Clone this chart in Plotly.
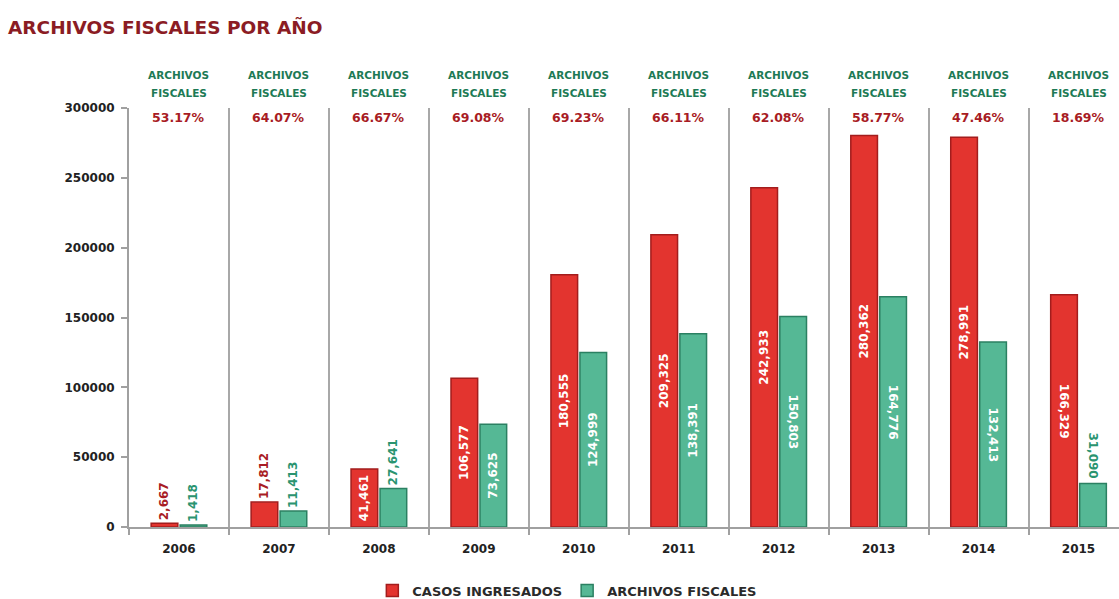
import plotly.graph_objects as go

years = ["2006", "2007", "2008", "2009", "2010", "2011", "2012", "2013", "2014", "2015"]
casos_ingresados = [2667, 17812, 41461, 106577, 180555, 209325, 242933, 280362, 278991, 166329]
archivos_fiscales = [1418, 11413, 27641, 73625, 124999, 138391, 150803, 164776, 132413, 31090]
porcentajes = ["53.17%", "64.07%", "66.67%", "69.08%", "69.23%", "66.11%", "62.08%", "58.77%", "47.46%", "18.69%"]
y_ticks = [0, 50000, 100000, 150000, 200000, 250000, 300000]

# label styling (not data): where each value label sits and which way it reads
casos_pos = ["outside", "outside"] + ["inside"] * 8
arch_pos = ["outside", "outside", "outside"] + ["inside"] * 6 + ["outside"]
casos_flip = [False] * 9 + [True]
arch_flip = [False] * 6 + [True] * 4

FONT = "DejaVu Sans"
RED = "#e3342f"
RED_LINE = "#a31d1d"
RED_TXT = "#a81c24"
GREEN = "#55b895"
GREEN_LINE = "#2b8062"
GREEN_TXT = "#2a9470"
HEAD_GREEN = "#1d7a55"
LABEL_SIZE = 12
BARGAP = 0.42

def fmt(v):
    return f"{v:,}"

casos_col = [RED_TXT if p == "outside" else "white" for p in casos_pos]
arch_col = [GREEN_TXT if p == "outside" else "white" for p in arch_pos]

fig = go.Figure()
fig.add_trace(go.Bar(
    x=years, y=casos_ingresados, name="CASOS INGRESADOS",
    marker=dict(color=RED, line=dict(color=RED_LINE, width=1.5)),
    text=["" if f else fmt(v) for v, f in zip(casos_ingresados, casos_flip)],
    textposition=casos_pos, textangle=-90,
    textfont=dict(family=FONT, size=LABEL_SIZE, color=casos_col, weight="bold"),
    insidetextanchor="middle", constraintext="none", cliponaxis=False,
))
fig.add_trace(go.Bar(
    x=years, y=archivos_fiscales, name="ARCHIVOS FISCALES",
    marker=dict(color=GREEN, line=dict(color=GREEN_LINE, width=1.5)),
    text=["" if f else fmt(v) for v, f in zip(archivos_fiscales, arch_flip)],
    textposition=arch_pos, textangle=-90,
    textfont=dict(family=FONT, size=LABEL_SIZE, color=arch_col, weight="bold"),
    insidetextanchor="middle", constraintext="none", cliponaxis=False,
))

annotations = [dict(
    text="ARCHIVOS FISCALES POR AÑO", xref="paper", yref="paper",
    x=(5 - 128.5) / 990.5, y=1, xanchor="left", yanchor="middle", yshift=81,
    showarrow=False, font=dict(family=FONT, size=18.5, color="#8b1c24", weight="bold"),
)]
for i, pct in enumerate(porcentajes):
    annotations.append(dict(text="ARCHIVOS", x=i, xref="x", yref="paper", y=1,
                            yanchor="middle", yshift=33, showarrow=False,
                            font=dict(family=FONT, size=10.5, color=HEAD_GREEN, weight="bold")))
    annotations.append(dict(text="FISCALES", x=i, xref="x", yref="paper", y=1,
                            yanchor="middle", yshift=15, showarrow=False,
                            font=dict(family=FONT, size=10.5, color=HEAD_GREEN, weight="bold")))
    annotations.append(dict(text=pct, x=i, xref="x", yref="paper", y=1,
                            yanchor="middle", yshift=-9, showarrow=False,
                            font=dict(family=FONT, size=12.5, color=RED_TXT, weight="bold")))

# value labels that read top-to-bottom in the original (rotated +90)
half_slot = (1 - BARGAP) / 4
for series, flips, pos, col, off in [
    (casos_ingresados, casos_flip, casos_pos, casos_col, -half_slot),
    (archivos_fiscales, arch_flip, arch_pos, arch_col, half_slot),
]:
    for i, (v, f, p, c) in enumerate(zip(series, flips, pos, col)):
        if not f:
            continue
        label = fmt(v)
        if p == "inside":
            annotations.append(dict(text=label, x=i + off, xref="x", y=v / 2, yref="y",
                                    textangle=90, showarrow=False,
                                    xanchor="center", yanchor="middle",
                                    font=dict(family=FONT, size=LABEL_SIZE, color=c, weight="bold")))
        else:
            est_len = LABEL_SIZE * (0.696 * sum(ch.isdigit() for ch in label) + 0.38 * label.count(","))
            annotations.append(dict(text=label, x=i + off, xref="x", y=v, yref="y",
                                    textangle=90, showarrow=False,
                                    xanchor="center", yanchor="middle", yshift=est_len / 2 + 5,
                                    font=dict(family=FONT, size=LABEL_SIZE, color=c, weight="bold")))

fig.update_layout(
    width=1119, height=599,
    margin=dict(l=128.5, r=0, t=108, b=72, autoexpand=False),
    paper_bgcolor="white", plot_bgcolor="white",
    barmode="group", bargap=BARGAP, bargroupgap=0.08,
    showlegend=True,
    legend=dict(orientation="h", xref="container", yref="container",
                x=0.507, xanchor="center", y=0.014, yanchor="middle",
                font=dict(family=FONT, size=13, color="#2a2a2a", weight="bold"),
                itemwidth=30, traceorder="normal"),
    annotations=annotations,
    xaxis=dict(
        type="category", range=[-0.5, 9.405], tickson="boundaries",
        showgrid=True, gridcolor="#a8a8a8", gridwidth=1.5,
        showline=True, linecolor="#a0a0a0", linewidth=2,
        ticks="outside", ticklen=6, tickcolor="#a0a0a0", tickwidth=1.5,
        ticklabelstandoff=10,
        tickfont=dict(family=FONT, size=12, color="#222222", weight="bold"),
        fixedrange=True,
    ),
    yaxis=dict(
        range=[0, 300000], tickvals=y_ticks, ticktext=[str(v) for v in y_ticks],
        showgrid=False, zeroline=False,
        showline=True, linecolor="#a0a0a0", linewidth=2,
        ticks="outside", ticklen=6, tickcolor="#a0a0a0", tickwidth=1.5,
        ticklabelstandoff=4,
        tickfont=dict(family=FONT, size=12, color="#222222", weight="bold"),
        fixedrange=True,
    ),
)

fig.write_html("out.html", config={"displayModeBar": False})
